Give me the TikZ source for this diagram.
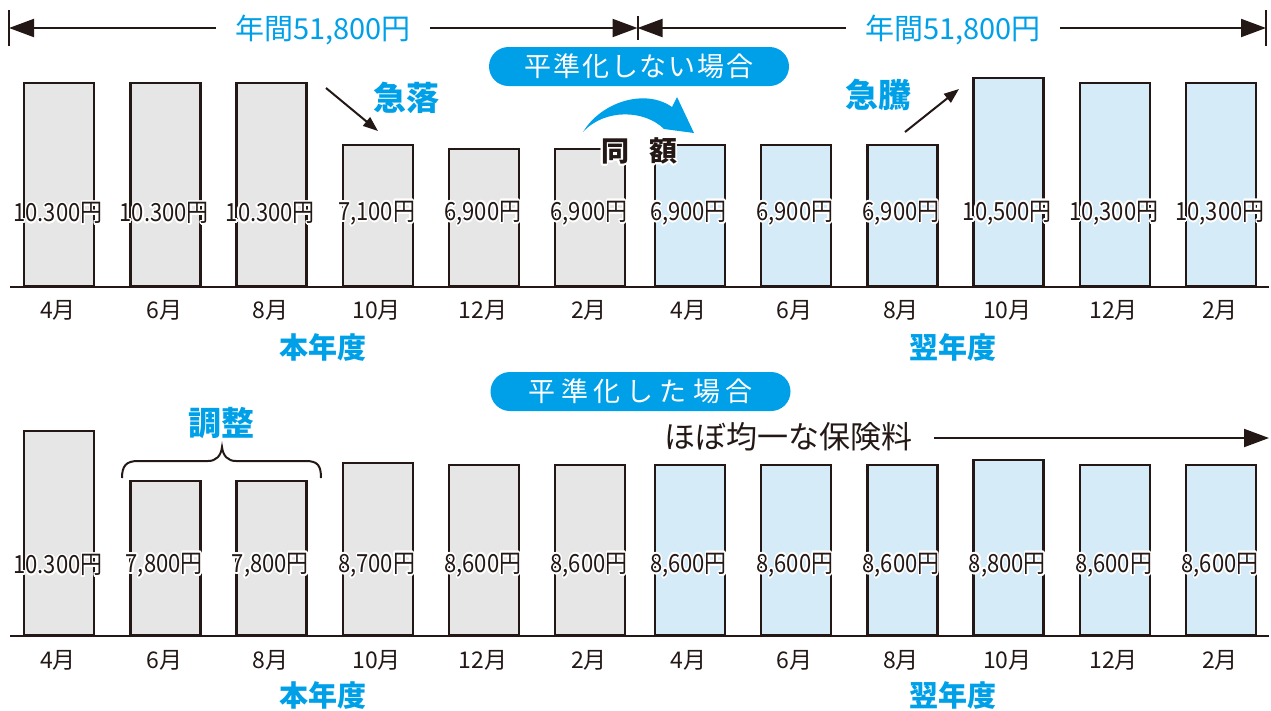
\documentclass[tikz,border=0pt]{standalone}
\usepackage{fontspec}
\setmainfont{Noto Sans CJK JP}
\usepackage{contour}
\contourlength{1.6pt}
\contournumber{24}
\usetikzlibrary{arrows.meta}
\definecolor{ink}{HTML}{231815}
\definecolor{cyanT}{HTML}{00A0E9}
\definecolor{grayF}{HTML}{E6E6E6}
\definecolor{blueF}{HTML}{D5EBF8}
\newcommand\fs[1]{\fontsize{#1}{#1}\selectfont}
\newcommand\valtxt[1]{\scalebox{0.88}[1]{\contour{white}{#1}}}
\tikzset{
  barA/.style={draw=ink, fill=grayF, line width=2.4pt, rectangle, inner sep=0pt, minimum width=70pt, anchor=south west},
  barB/.style={barA, fill=blueF},
  val/.style={text=ink, inner sep=0pt, font=\fs{25}},
  mon/.style={text=ink, inner sep=0pt, font=\fs{23}},
  yr/.style={text=cyanT, inner sep=0pt, font=\fs{29}\bfseries},
  cyanlbl/.style={text=cyanT, inner sep=0pt, font=\fs{33}\bfseries},
  pill/.style={fill=cyanT, text=white, rounded corners=19.5pt, minimum width=300pt, minimum height=39pt, inner sep=0pt, font=\fs{27}},
  dimtxt/.style={text=cyanT, inner sep=0pt, font=\fs{29}},
  dimline/.style={draw=ink, line width=2pt},
  dimarr/.style={dimline, -{Triangle[length=25pt,width=18pt]}},
  basel/.style={draw=ink, line width=2.8pt},
  blkarr/.style={draw=ink, line width=2pt, -{Triangle[length=15pt,width=11pt]}},
}
\begin{document}
\begin{tikzpicture}[x=1pt,y=-1pt]
\useasboundingbox (0,0) rectangle (1271,710);

% ---------- top row bars ----------
\foreach \x/\t [count=\k] in {23/84, 129.2/84, 235.4/84, 341.6/146, 447.8/150, 554/150}{
  \node[barA, minimum height={287-\t}] (ta\k) at (\x,287) {};
}
\foreach \x/\t [count=\k] in {653.5/146, 759.8/146, 866.1/146, 972.4/79, 1078.7/84, 1185/84}{
  \node[barB, minimum height={287-\t}] (tb\k) at (\x,287) {};
}
\coordinate (tbl) at (10,287);
\coordinate (tbr) at (1269,287);
\draw[basel] (tbl) -- (tbr);
\foreach \x/\v [count=\k] in {23/10.300円, 129.2/10.300円, 235.4/10.300円, 341.6/7{,}100円, 447.8/6{,}900円, 554/6{,}900円, 653.5/6{,}900円, 759.8/6{,}900円, 866.1/6{,}900円, 972.4/10{,}500円, 1078.7/10{,}300円, 1185/10{,}300円}{
  \node[val] (tv\k) at (\x+35,214) {\valtxt{\v}};
}

% ---------- bottom row bars ----------
\foreach \x/\t [count=\k] in {23/432, 129.2/482, 235.4/482, 341.6/464, 447.8/466, 554/466}{
  \node[barA, minimum height={636-\t}] (ba\k) at (\x,636) {};
}
\foreach \x/\t [count=\k] in {653.5/466, 759.8/466, 866.1/466, 972.4/461, 1078.7/466, 1185/466}{
  \node[barB, minimum height={636-\t}] (bb\k) at (\x,636) {};
}
\coordinate (bbl) at (10,636);
\coordinate (bbr) at (1269,636);
\draw[basel] (bbl) -- (bbr);
\foreach \x/\v [count=\k] in {23/10.300円, 129.2/7{,}800円, 235.4/7{,}800円, 341.6/8{,}700円, 447.8/8{,}600円, 554/8{,}600円, 653.5/8{,}600円, 759.8/8{,}600円, 866.1/8{,}600円, 972.4/8{,}800円, 1078.7/8{,}600円, 1185/8{,}600円}{
  \node[val] (bv\k) at (\x+35,566) {\valtxt{\v}};
}

% ---------- month labels ----------
\foreach \x/\m [count=\k] in {23/4月, 129.2/6月, 235.4/8月, 341.6/10月, 447.8/12月, 554/2月, 653.5/4月, 759.8/6月, 866.1/8月, 972.4/10月, 1078.7/12月, 1185/2月}{
  \node[mon] (tm\k) at (\x+35,310) {\m};
  \node[mon] (bm\k) at (\x+35,660) {\m};
}
\node[yr] (y1) at (323,347) {本年度};
\node[yr] (y2) at (953,347) {翌年度};
\node[yr] (y3) at (323,695) {本年度};
\node[yr] (y4) at (953,695) {翌年度};

% ---------- dimension line ----------
\coordinate (dL) at (9,28);
\coordinate (dM) at (637.5,28);
\coordinate (dR) at (1266,28);
\coordinate (dLt) at (9,10);  \coordinate (dLb) at (9,46);
\coordinate (dMt) at (637.5,16); \coordinate (dMb) at (637.5,40);
\coordinate (dRt) at (1266,10); \coordinate (dRb) at (1266,46);
\draw[dimline] (dLt) -- (dLb);
\draw[dimline] (dMt) -- (dMb);
\draw[dimline] (dRt) -- (dRb);
\node[dimtxt] (dimA) at (323,30) {年間51,800円};
\node[dimtxt] (dimB) at (953,30) {年間51,800円};
\draw[dimarr] ([xshift=-19pt]dimA.west |- dL) -- (dL);
\draw[dimarr] ([xshift=19pt]dimA.east |- dL) -- (dM);
\draw[dimarr] ([xshift=-19pt]dimB.west |- dM) -- (dM);
\draw[dimarr] ([xshift=19pt]dimB.east |- dR) -- (dR);

% ---------- pills ----------
\node[pill] (p1) at (639,66.5) {平\hspace{2pt}準\hspace{2pt}化\hspace{2pt}し\hspace{2pt}な\hspace{2pt}い\hspace{2pt}場\hspace{2pt}合};
\node[pill] (p2) at (640.5,391.5) {平\hspace{6pt}準\hspace{6pt}化\hspace{6pt}し\hspace{6pt}た\hspace{6pt}場\hspace{6pt}合};

% ---------- top annotations ----------
\node[cyanlbl] (kr) at (406,98) {急落};
\node[cyanlbl] (kt) at (878,95) {急騰};
\coordinate (krs) at (326,88); \coordinate (kre) at (378,131);
\coordinate (kts) at (905,132); \coordinate (kte) at (959,89);
\draw[blkarr] (krs) -- (kre);
\draw[blkarr] (kts) -- (kte);

% curved cyan arrow
\fill[cyanT] (583,132) .. controls (601,102) and (645,88) .. (672,107) -- (677,97) -- (694,133) -- (664,129) .. controls (645,110) and (605,108) .. (583,132) -- cycle;
\node[text=ink, inner sep=0pt, font=\fs{28}\bfseries] (dg) at (639,152) {\contour{white}{同\hspace{20pt}額}};

% ---------- bottom annotations ----------
\node[cyanlbl] (cz) at (221,423) {調整};
\draw[draw=ink, line width=2pt] (122,478) .. controls (122,466) and (126,461) .. (138,461) -- (208,461) .. controls (216,461) and (221,456) .. (222,447) .. controls (223,456) and (228,461) .. (236,461) -- (306,461) .. controls (318,461) and (321,466) .. (321,478);
\node[text=ink, inner sep=0pt, font=\fs{31}] (pq) at (788,437) {ほぼ均一な保険料};
\coordinate (pqe) at (1269,438);
\draw[dimarr] ([xshift=22pt]pq.east |- pqe) -- (pqe);
\end{tikzpicture}
\end{document}
